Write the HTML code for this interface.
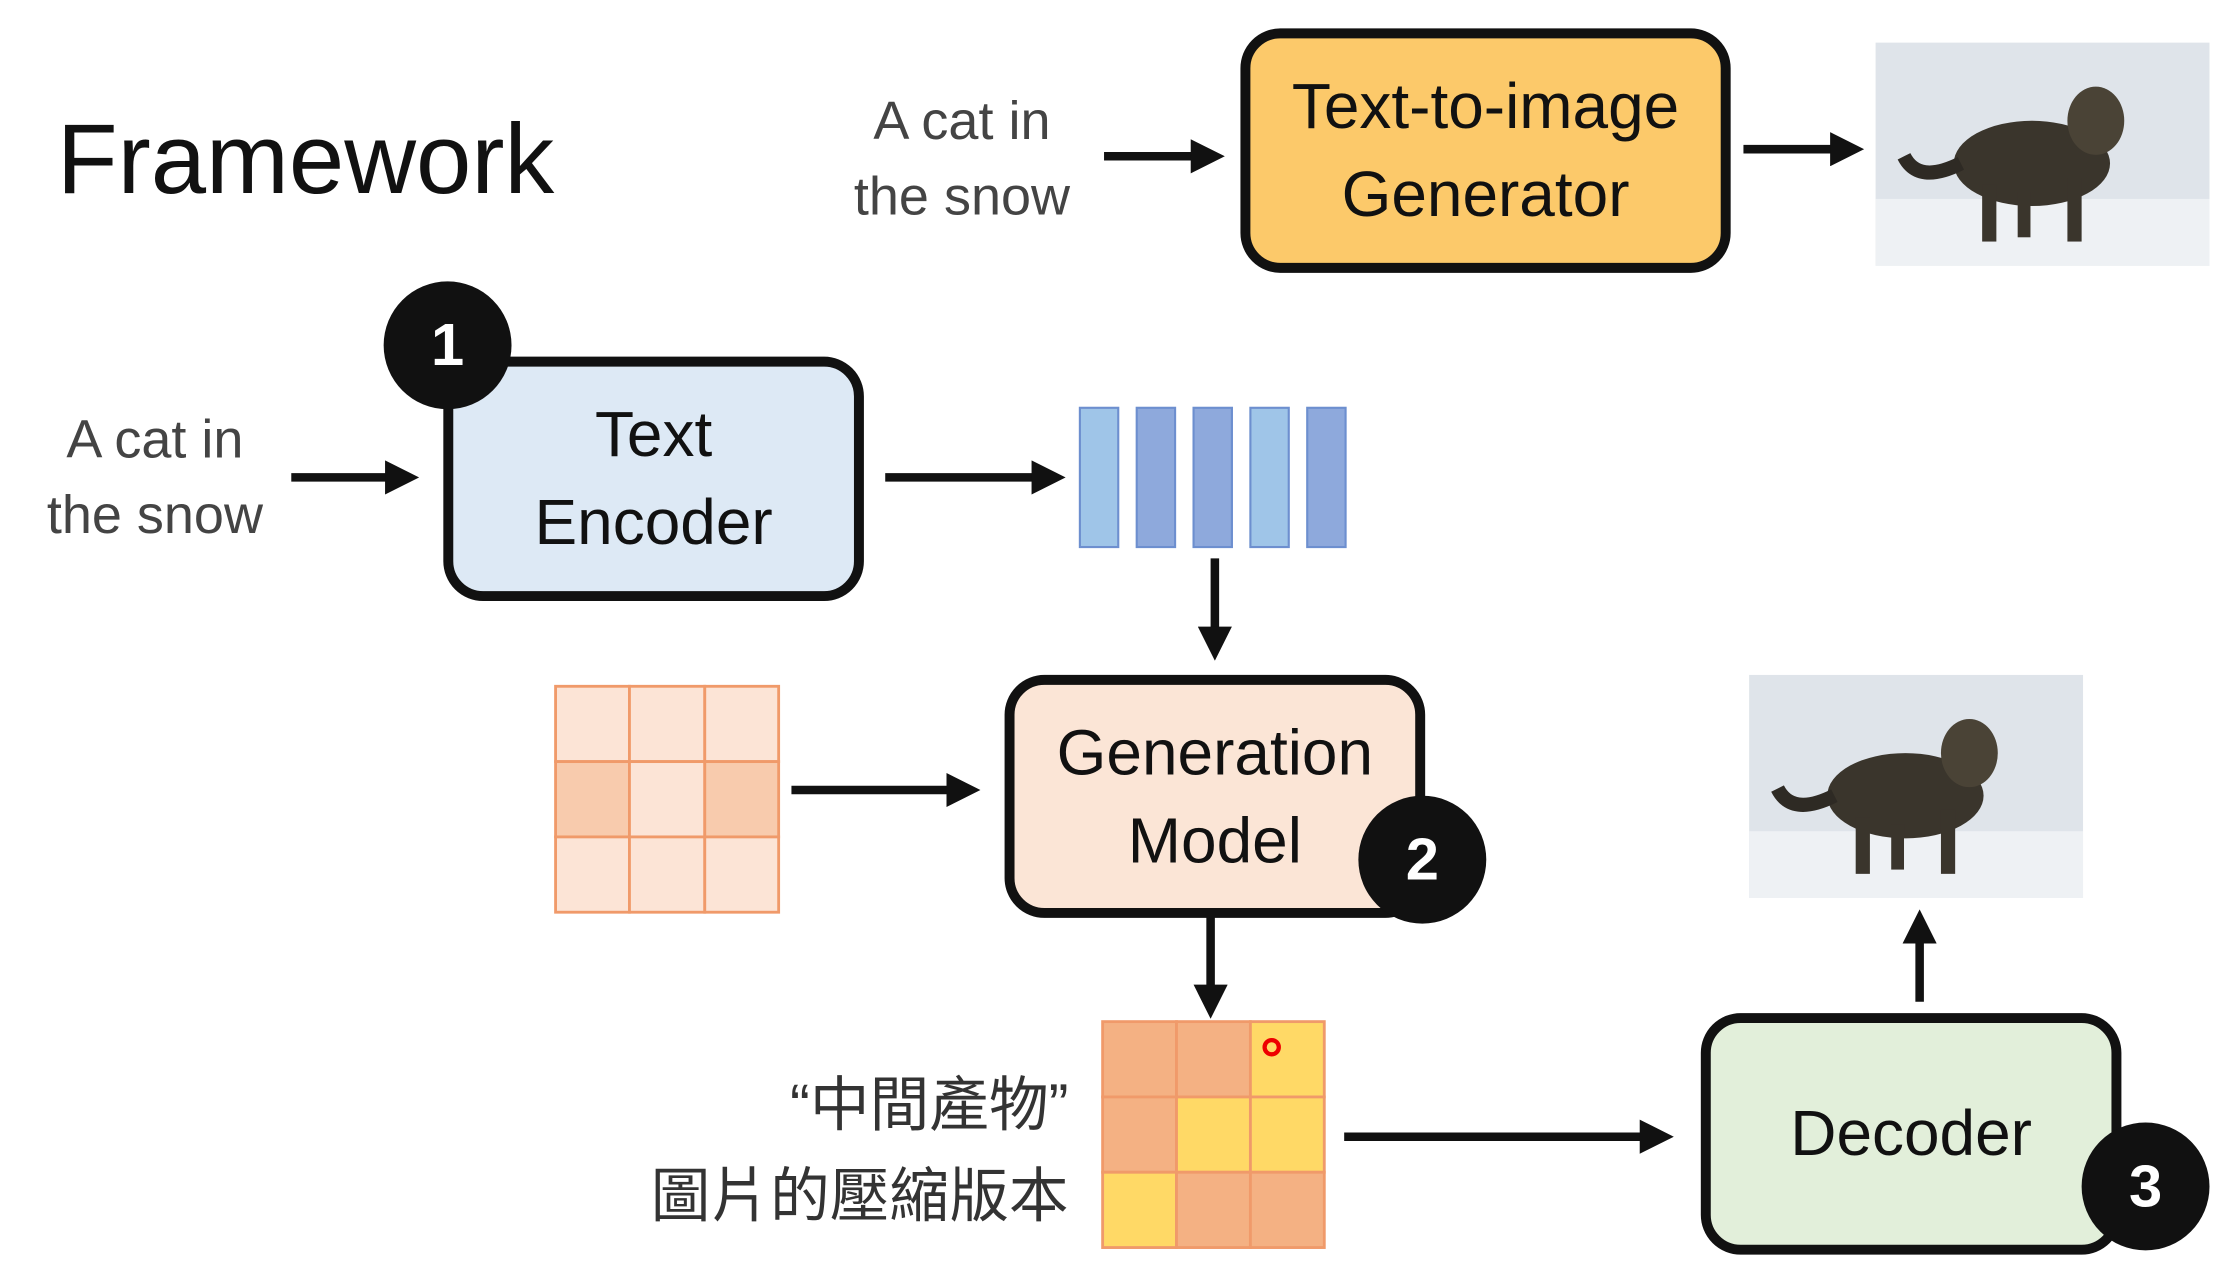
<!DOCTYPE html>
<html><head><meta charset="utf-8">
<style>
html,body{margin:0;padding:0;background:#fff;overflow:hidden;width:2228px;height:1275px}
#s{position:absolute;left:0;top:0;width:1568px;height:897px;transform:scale(1.4209);transform-origin:0 0;font-family:"Liberation Sans","Noto Sans CJK TC",sans-serif}
.a{position:absolute}
.box{position:absolute;border:7px solid #111;border-radius:28px;box-sizing:border-box;display:flex;align-items:center;justify-content:center;text-align:center;font-size:45px;line-height:62px;color:#111}
.c{position:absolute;width:90px;height:90px;border-radius:50%;background:#111;color:#fff;font-weight:bold;font-size:42px;display:flex;align-items:center;justify-content:center}
.t{position:absolute;color:#444;font-size:38px;line-height:53px;text-align:center}
</style></head><body><div id="s">
<div class="a" style="left:40px;top:72px;font-size:70px;color:#111">Framework</div>
<div class="t" style="left:577px;top:60px;width:200px">A cat in<br>the snow</div>
<div class="t" style="left:9px;top:284px;width:200px">A cat in<br>the snow</div>

<div class="box" style="left:873px;top:20px;width:345px;height:172px;background:#fcc96a">Text-to-image<br>Generator</div>
<div class="box" style="left:312px;top:251px;width:296px;height:172px;background:#dde9f5">Text<br>Encoder</div>
<div class="box" style="left:707px;top:475px;width:296px;height:171px;background:#fbe5d6">Generation<br>Model</div>
<div class="box" style="left:1197px;top:713px;width:296px;height:170px;background:#e2efda">Decoder</div>

<div class="c" style="left:270px;top:198px">1</div>
<div class="c" style="left:956px;top:560px">2</div>
<div class="c" style="left:1465px;top:790px">3</div>

<svg class="a" style="left:0;top:0" width="1568" height="897">
<defs><marker id="m" markerWidth="4" markerHeight="4" refX="2" refY="2" orient="auto"><path d="M0,0L4,2L0,4z" fill="#111"/></marker>
<g id="cat">
<rect x="0" y="0" width="235" height="157" fill="#dfe4ea"/>
<rect x="0" y="110" width="235" height="47" fill="#eef1f4"/>
<ellipse cx="110" cy="85" rx="55" ry="30" fill="#3a352c"/>
<ellipse cx="155" cy="55" rx="20" ry="24" fill="#4a4336"/>
<path d="M60,85 Q30,100 20,80" stroke="#2e2a24" stroke-width="10" fill="none"/>
<rect x="75" y="100" width="10" height="40" fill="#3a352c"/><rect x="135" y="95" width="10" height="45" fill="#3a352c"/><rect x="100" y="105" width="9" height="32" fill="#3a352c"/>
</g></defs>
<g stroke="#111" stroke-width="6" marker-end="url(#m)">
<line x1="777" y1="110" x2="850" y2="110"/>
<line x1="1227" y1="105" x2="1300" y2="105"/>
<line x1="205" y1="336" x2="283" y2="336"/>
<line x1="623" y1="336" x2="738" y2="336"/>
<line x1="855" y1="393" x2="855" y2="453"/>
<line x1="557" y1="556" x2="678" y2="556"/>
<line x1="852" y1="645" x2="852" y2="705"/>
<line x1="946" y1="800" x2="1166" y2="800"/>
<line x1="1351" y1="705" x2="1351" y2="652"/>
</g>
<g stroke="#6d8fcf" stroke-width="1.5">
<rect x="760" y="287" width="27" height="98" fill="#9fc5e8"/>
<rect x="800" y="287" width="27" height="98" fill="#8ea9dc"/>
<rect x="840" y="287" width="27" height="98" fill="#8ea9dc"/>
<rect x="880" y="287" width="27" height="98" fill="#9fc5e8"/>
<rect x="920" y="287" width="27" height="98" fill="#8ea9dc"/>
</g>
<g stroke="#f09a6a" stroke-width="2">
<rect x="391" y="483" width="52" height="53" fill="#fce4d6"/><rect x="443" y="483" width="53" height="53" fill="#fce4d6"/><rect x="496" y="483" width="52" height="53" fill="#fce4d6"/>
<rect x="391" y="536" width="52" height="53" fill="#f8cbad"/><rect x="443" y="536" width="53" height="53" fill="#fce4d6"/><rect x="496" y="536" width="52" height="53" fill="#f8cbad"/>
<rect x="391" y="589" width="52" height="53" fill="#fce4d6"/><rect x="443" y="589" width="53" height="53" fill="#fce4d6"/><rect x="496" y="589" width="52" height="53" fill="#fce4d6"/>
</g>
<g stroke="#f09a6a" stroke-width="2">
<rect x="776" y="719" width="52" height="53" fill="#f4b183"/><rect x="828" y="719" width="52" height="53" fill="#f4b183"/><rect x="880" y="719" width="52" height="53" fill="#ffd966"/>
<rect x="776" y="772" width="52" height="53" fill="#f4b183"/><rect x="828" y="772" width="52" height="53" fill="#ffd966"/><rect x="880" y="772" width="52" height="53" fill="#ffd966"/>
<rect x="776" y="825" width="52" height="53" fill="#ffd966"/><rect x="828" y="825" width="52" height="53" fill="#f4b183"/><rect x="880" y="825" width="52" height="53" fill="#f4b183"/>
</g>
<circle cx="895" cy="737" r="5" fill="none" stroke="#e00" stroke-width="3"/>
<use href="#cat" x="1320" y="30"/>
<use href="#cat" x="1231" y="475"/>
</svg>

<div class="a" style="left:380px;top:746px;width:372px;text-align:right;font-size:42px;line-height:64px;color:#333">“中間產物”<br>圖片的壓縮版本</div>
</div></body></html>
